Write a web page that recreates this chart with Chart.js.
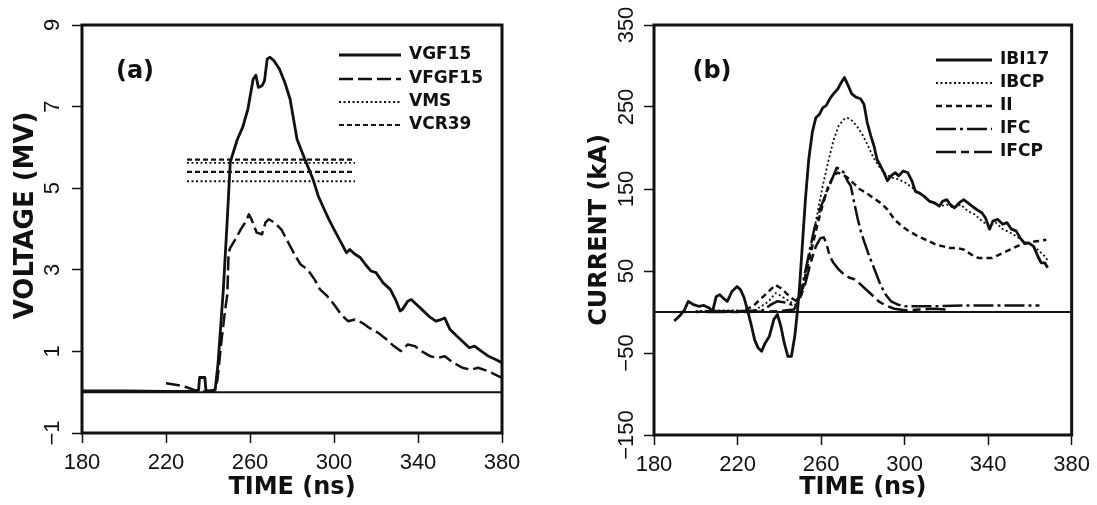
<!DOCTYPE html>
<html>
<head>
<meta charset="utf-8">
<title>Voltage and current waveforms</title>
<script src="https://cdn.jsdelivr.net/npm/chart.js@4.4.1/dist/chart.umd.min.js"></script>
<style>
  html, body { margin: 0; padding: 0; background: #fff; }
  #wrap { position: relative; width: 1097px; height: 505px; overflow: hidden; }
  canvas { position: absolute; top: 0; }
  #chart-a { left: 0; }
  #chart-b { left: 550px; }
</style>
</head>
<body>
<div id="wrap">
  <canvas id="chart-a" width="548" height="505"></canvas>
  <canvas id="chart-b" width="547" height="505"></canvas>
</div>
<script>
/* tick labels */
const timeTicks = [180, 220, 260, 300, 340, 380];
const voltageTicks = [-1, 1, 3, 5, 7, 9];
const currentTicks = [-150, -50, 50, 150, 250, 350];

/* panel (a): voltage (MV) against time (ns) */
const vgf15Time = [180, 200, 220, 234, 235.5, 236, 238.5, 239, 240, 243.4, 244.8, 247.3, 249, 250.6, 251.5, 254, 256.5, 259, 261.5, 262.8, 264, 265.7, 266.9, 268.2, 269.5, 271.5, 274, 276.6, 279.1, 282.4, 284.9, 287.4, 290, 292.5, 295, 297.5, 300, 302.5, 305.9, 307.5, 310, 312.5, 315, 317.6, 320, 323.4, 326.8, 329.3, 331.5, 332.6, 335.1, 336.8, 339.3, 341.8, 345.2, 348.5, 351, 352.7, 355.2, 358.6, 361.9, 364.4, 366.9, 370.3, 373.6, 377, 380];
const vgf15 = [0.03, 0.03, 0.02, 0.02, 0.05, 0.36, 0.36, 0.05, 0.03, 0.05, 0.72, 2.52, 4.07, 5.63, 5.79, 6.2, 6.49, 6.94, 7.67, 7.77, 7.47, 7.51, 7.63, 8.17, 8.21, 8.12, 7.92, 7.59, 7.18, 6.2, 5.87, 5.55, 5.22, 4.81, 4.52, 4.24, 3.99, 3.75, 3.42, 3.5, 3.38, 3.3, 3.13, 2.97, 2.93, 2.68, 2.52, 2.27, 1.99, 2.03, 2.23, 2.27, 2.15, 2.03, 1.86, 1.74, 1.78, 1.82, 1.54, 1.37, 1.21, 1.09, 1.13, 1.0, 0.88, 0.8, 0.72];

const vfgf15Time = [220, 226, 230, 233, 236, 240, 243, 244.5, 246.5, 248, 249.2, 249.8, 250.6, 253.1, 255.6, 258.2, 259.5, 260.7, 263.2, 265.7, 267.4, 269, 271.5, 274.9, 278.2, 281.6, 284.1, 287.4, 290.8, 293.3, 296.7, 300, 303.3, 306.7, 310, 313.4, 316.7, 320.9, 325.1, 328.5, 331.8, 335.1, 338.5, 341.8, 346, 349.4, 352.7, 356.9, 361.1, 365.3, 368.6, 373.6, 380];
const vfgf15 = [0.22, 0.17, 0.12, 0.06, 0.02, 0.02, 0.03, 0.3, 1.3, 1.95, 2.4, 3.42, 3.54, 3.75, 3.99, 4.2, 4.36, 4.24, 3.91, 3.87, 4.16, 4.24, 4.16, 3.99, 3.67, 3.34, 3.13, 3.01, 2.76, 2.52, 2.36, 2.15, 1.91, 1.74, 1.78, 1.7, 1.58, 1.46, 1.29, 1.13, 1.01, 1.17, 1.13, 1.0, 0.88, 0.84, 0.88, 0.72, 0.6, 0.55, 0.6, 0.51, 0.35];

const levelTime = [230, 310];
const vmsUpper = [5.62, 5.62];
const vmsLower = [5.17, 5.17];
const vcr39Upper = [5.7, 5.7];
const vcr39Lower = [5.4, 5.4];

/* panel (b): current (kA) against time (ns) */
const ibi17Time = [189.7, 192.2, 194.7, 196.4, 198.9, 201.4, 203.9, 206.4, 208.1, 209.8, 211.5, 213.1, 215.1, 217.3, 219.8, 221.5, 223.2, 224.9, 226.5, 228.2, 229.9, 231.5, 233.2, 235.2, 237.4, 239.1, 240.8, 242.4, 244.1, 245.8, 247.4, 248.6, 249.6, 250.8, 252.5, 254.1, 255.8, 257.5, 259.2, 260.8, 262.5, 264.2, 265.9, 268, 269.7, 271.2, 273, 274.7, 276.7, 278.9, 280.6, 282.1, 283.8, 285.4, 286.8, 288.5, 290.1, 291.8, 293.5, 295.5, 297.2, 299.3, 301.5, 303.5, 305.2, 307.2, 309.4, 311.9, 314.4, 316.6, 318.2, 320.2, 321.9, 323.9, 326.1, 328.3, 330.3, 332.3, 334.5, 337, 338.7, 340.7, 342.3, 344.5, 347, 349, 351.2, 353.4, 355.4, 357.4, 359.6, 361.8, 363.8, 365.4, 367.1, 368.5];
const ibi17 = [-11, -5, 3, 13, 9, 7, 8, 5, 1, 19, 21, 17, 13, 25, 31, 27, 17, 1, -15, -34, -44, -48, -38, -30, -9, -3, -18, -38, -54, -54, -30, -1, 27, 72, 137, 186, 219, 237, 241, 249, 252, 260, 266, 272, 280, 286, 276, 266, 262, 260, 253, 231, 215, 202, 186, 178, 170, 160, 166, 170, 166, 172, 170, 160, 147, 145, 141, 135, 133, 129, 135, 137, 131, 127, 133, 137, 133, 129, 125, 121, 115, 101, 111, 113, 107, 109, 101, 99, 90, 84, 84, 80, 68, 60, 60, 54];

const ibcpTime = [200, 210, 220, 226, 228, 231.5, 234.9, 238.2, 239.9, 242.4, 245, 247.5, 249.1, 250.8, 253.3, 255.8, 258.3, 260.8, 263.3, 265.9, 268.4, 270.9, 272.6, 275.1, 277.6, 280.1, 282.6, 285.1, 287.6, 290.1, 293.5, 296.8, 300.2, 303.5, 306.9, 310.2, 313.6, 316.9, 320.2, 323.6, 326.9, 330.3, 333.6, 337, 340.3, 343.7, 347, 350.4, 353.7, 357.1, 360.4, 363.8, 367.1, 368.8];
const ibcp = [1, 2, 2, 1, 2, 7, 13, 23, 21, 17, 13, 9, 13, 27, 56, 88, 121, 154, 182, 209, 227, 235, 237, 233, 225, 215, 202, 188, 178, 170, 164, 162, 158, 152, 145, 139, 133, 129, 131, 127, 131, 123, 119, 111, 105, 109, 101, 97, 92, 86, 82, 76, 68, 62];

const iiTime = [200, 212, 222, 227.4, 231.5, 234.9, 238.2, 240.8, 243.3, 245.8, 248.6, 250.8, 253.3, 255.8, 258.3, 260.8, 263.3, 265.9, 268, 270, 272.6, 275.1, 278.4, 281.8, 285.1, 288.5, 291.8, 295.1, 298.5, 301.8, 305.2, 308.5, 311.9, 315.2, 318.6, 321.9, 325.3, 328.6, 332, 335.3, 338.7, 342, 345.4, 348.7, 352, 355.4, 358.7, 362.1, 365.4, 367.9];
const ii = [0, 1, 1, 7, 17, 25, 33, 29, 23, 17, 13, 23, 52, 80, 107, 131, 152, 166, 170, 168, 164, 158, 150, 145, 139, 133, 125, 113, 105, 99, 94, 90, 86, 82, 80, 78, 78, 76, 70, 66, 66, 66, 70, 74, 78, 82, 84, 86, 87, 88];

const ifcTime = [205, 220, 232, 236, 239, 242, 246, 250, 253.3, 256.7, 260, 263.3, 265.9, 267.5, 269.2, 270.9, 272.6, 274.2, 275.9, 277.6, 279.2, 280.9, 283.4, 285.9, 288.5, 291, 293.5, 296.8, 300.2, 305, 315, 330, 347, 364.6];
const ifc = [1, 1, 2, 9, 13, 12, 9, 19, 60, 101, 129, 150, 166, 176, 174, 170, 160, 154, 133, 113, 97, 84, 66, 50, 33, 21, 13, 9, 7, 7, 7, 8, 8, 8];

const ifcpTime = [205, 225, 240, 247, 250, 252.5, 255, 257.5, 259.7, 261.3, 262.5, 264.2, 265.9, 268.4, 270.9, 273.4, 275.9, 278.4, 280.9, 284.3, 287.6, 291, 295.1, 300.2, 306.9, 313.6, 320];
const ifcp = [0, 0, 1, 3, 17, 35, 60, 80, 90, 91, 84, 68, 60, 52, 46, 42, 40, 35, 29, 21, 13, 8, 4, 2, 3, 4, 3];

/* zero reference line, both panels */
const zeroTime = [180, 380];
const zeroLevel = [0, 0];

const INK = '#111';
const tickFont = { family: '"Liberation Sans", Arial, sans-serif', size: 22 };
const titleFont = { family: '"DejaVu Sans", sans-serif', size: 24, weight: 'bold' };

const toPoints = (xs, ys) => xs.map((x, i) => ({ x: x, y: ys[i] }));

const trace = (label, xs, ys, width, dash) => ({
    label: label,
    data: toPoints(xs, ys),
    borderColor: INK,
    borderWidth: width,
    borderDash: dash,
    borderJoinStyle: 'round',
    pointRadius: 0,
    tension: 0,
    fill: false
});

const minusSign = v => String(v).replace('-', '\u2212');

// box frame, panel tag and the hand-placed legend
const panelDecor = {
    id: 'panelDecor',
    afterDatasetsDraw(chart, args, opts) {
        const { ctx, chartArea: a } = chart;
        ctx.save();
        ctx.strokeStyle = INK;
        ctx.fillStyle = INK;
        ctx.lineWidth = 3;
        ctx.strokeRect(a.left, a.top, a.right - a.left, a.bottom - a.top);

        ctx.font = 'bold 24px "DejaVu Sans"';
        ctx.textAlign = 'center';
        ctx.textBaseline = 'middle';
        ctx.fillText(opts.tag, opts.tagX, opts.tagY);

        ctx.font = 'bold 17px "DejaVu Sans"';
        ctx.textAlign = 'left';
        opts.entries.forEach((dsIndex, i) => {
            const ds = chart.data.datasets[dsIndex];
            const y = opts.rows[i];
            ctx.setLineDash(ds.borderDash || []);
            ctx.lineWidth = ds.borderWidth;
            ctx.beginPath();
            ctx.moveTo(opts.lineFrom, y);
            ctx.lineTo(opts.lineTo, y);
            ctx.stroke();
            ctx.setLineDash([]);
            ctx.fillText(ds.label, opts.textX, y);
        });
        ctx.restore();
    }
};

const makeOptions = (cfg) => ({
    responsive: false,
    animation: false,
    layout: { padding: cfg.padding },
    plugins: {
        legend: { display: false },
        tooltip: { enabled: false },
        panelDecor: cfg.decor
    },
    scales: {
        x: {
            type: 'linear',
            min: 180,
            max: 380,
            afterBuildTicks: s => { s.ticks = timeTicks.map(v => ({ value: v })); },
            afterFit: s => { s.height = cfg.xHeight; },
            border: { display: false },
            grid: { drawOnChartArea: false, tickLength: 10, tickWidth: 1.5, tickColor: INK, color: INK },
            ticks: { color: INK, font: tickFont, padding: 7, maxRotation: 0 },
            title: { display: true, text: 'TIME (ns)', color: INK, font: titleFont, padding: { top: 0, bottom: 3 } }
        },
        y: {
            type: 'linear',
            min: cfg.yTicks[0],
            max: cfg.yTicks[cfg.yTicks.length - 1],
            afterBuildTicks: s => { s.ticks = cfg.yTicks.map(v => ({ value: v })); },
            afterFit: s => { s.width = cfg.yWidth; },
            border: { display: false },
            grid: { drawOnChartArea: false, tickLength: 10, tickWidth: 1.5, tickColor: INK, color: INK },
            ticks: {
                color: INK, font: tickFont, padding: cfg.yTickPad,
                minRotation: 90, maxRotation: 90, crossAlign: 'center',
                callback: minusSign
            },
            title: {
                display: true, text: cfg.yTitle, color: INK,
                font: Object.assign({}, titleFont, { size: cfg.yTitleSize }),
                padding: { top: cfg.yTitlePad, bottom: 0 }
            }
        }
    }
});

new Chart(document.getElementById('chart-a'), {
    type: 'line',
    data: {
        datasets: [
            trace('VGF15', vgf15Time, vgf15, 2.8, []),
            trace('VFGF15', vfgf15Time, vfgf15, 2.5, [14, 5]),
            trace('VMS', levelTime, vmsUpper, 1.8, [2, 2.5]),
            trace('VCR39', levelTime, vcr39Upper, 2.2, [5, 3]),
            trace('VMS', levelTime, vmsLower, 1.8, [2, 2.5]),
            trace('VCR39', levelTime, vcr39Lower, 2.2, [5, 3]),
            trace('zero', zeroTime, zeroLevel, 2, [])
        ]
    },
    options: makeOptions({
        padding: { left: 8, top: 25, right: 46, bottom: 0 },
        xHeight: 72,
        yWidth: 74,
        yTicks: voltageTicks,
        yTickPad: 7,
        // leading spaces lift the rotated title a little above the axis centre, as in the source
        yTitle: '   VOLTAGE (MV)',
        yTitleSize: 26,
        yTitlePad: 3,
        decor: { tag: '(a)', tagX: 135, tagY: 72, entries: [0, 1, 2, 3], rows: [55, 79, 102, 125], lineFrom: 339, lineTo: 401, textX: 409 }
    }),
    plugins: [panelDecor]
});

new Chart(document.getElementById('chart-b'), {
    type: 'line',
    data: {
        datasets: [
            trace('IBI17', ibi17Time, ibi17, 2.8, []),
            trace('IBCP', ibcpTime, ibcp, 1.8, [2, 2.5]),
            trace('II', iiTime, ii, 2.5, [6, 4]),
            trace('IFC', ifcTime, ifc, 2.5, [20, 4, 3, 4]),
            trace('IFCP', ifcpTime, ifcp, 2.5, [20, 5, 8, 5]),
            trace('zero', zeroTime, zeroLevel, 2, [])
        ]
    },
    options: makeOptions({
        padding: { left: 30, top: 25, right: 25, bottom: 0 },
        xHeight: 70,
        yWidth: 74,
        yTicks: currentTicks,
        yTickPad: -8,
        yTitle: 'CURRENT (kA)',
        yTitleSize: 24,
        yTitlePad: 5,
        decor: { tag: '(b)', tagX: 162, tagY: 72, entries: [0, 1, 2, 3, 4], rows: [60, 83, 106, 129, 152], lineFrom: 386, lineTo: 442, textX: 450 }
    }),
    plugins: [panelDecor]
});
</script>
</body>
</html>
